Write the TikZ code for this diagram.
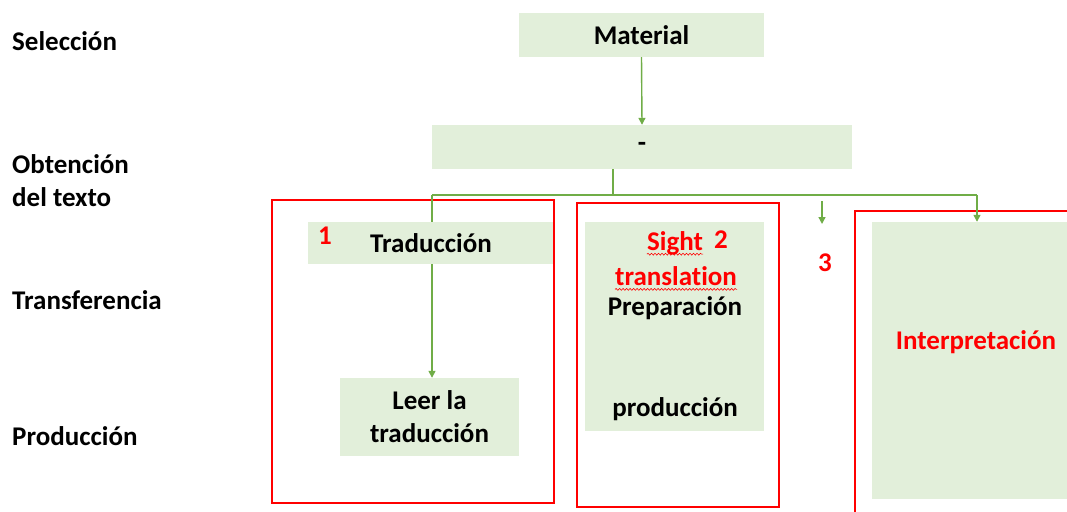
\documentclass[tikz,border=0pt]{standalone}
\usepackage{fontspec}
\setmainfont[Ligatures={NoCommon}]{Carlito}
\usetikzlibrary{arrows.meta,decorations.pathmorphing}
\definecolor{boxgreen}{RGB}{226,239,218}
\definecolor{linegreen}{RGB}{112,173,71}
\definecolor{redc}{RGB}{255,0,0}
\begin{document}
\begin{tikzpicture}[x=1pt,y=-1pt,
  txt/.style={font=\bfseries\fontsize{27}{33}\selectfont},
  gbox/.style={fill=boxgreen, draw=none, inner sep=0pt, txt, align=center},
  rbox/.style={draw=redc, line width=2.5pt, fill=none, inner sep=0pt},
  conn/.style={draw=linegreen, line width=1.4pt},
  arr/.style={conn, -{Triangle[length=7pt,width=7pt]}},
  lab/.style={anchor=west, txt, align=left, inner sep=0pt},
  num/.style={text=redc, txt, inner sep=0pt},
  wavy/.style={draw=redc, line width=0.6pt, decorate, decoration={snake, amplitude=0.9pt, segment length=3.5pt}}
]
\useasboundingbox (0,0) rectangle (1067,511);
\fill[white] (0,0) rectangle (1067,511);

% left labels
\node[lab] (sel) at (12,41) {Selección};
\node[lab] (obt) at (12,181) {Obtención\\del texto};
\node[lab] (tra) at (12,300) {Transferencia};
\node[lab] (pro) at (12,436) {Producción};

% green boxes
\node[gbox, minimum width=245pt, minimum height=44pt] (mat) at (641.5,35) {Material};
\node[gbox, minimum width=420pt, minimum height=44pt] (dash) at (642,147) {-};
\node[gbox, minimum width=245pt, minimum height=42pt] (trad) at (430.5,243) {};
\node[txt, inner sep=0pt] (tradt) at (431,243) {Traducción};
\node[gbox, minimum width=179pt, minimum height=78pt] (leer) at (429.5,417) {Leer la\\traducción};
\node[gbox, minimum width=179pt, minimum height=209pt] (sightbox) at (674.5,326.5) {};
\node[gbox, minimum width=195pt, minimum height=277pt] (interp) at (969.5,360.5) {};

% texts in boxes
\node[txt, text=redc, inner sep=0pt] (sight) at (675,243) {Sight};
\node[txt, text=redc, inner sep=0pt] (transl) at (676,276) {translation};
\node[txt, inner sep=0pt] (prep) at (675,308) {Preparación};
\node[txt, inner sep=0pt] (prod) at (675,409) {producción};
\node[txt, text=redc, inner sep=0pt] (interpt) at (976,342) {Interpretación};
\draw[wavy] ([yshift=-4pt]sight.base west) -- ([yshift=-4pt]sight.base east);
\draw[wavy] ([yshift=-4pt]transl.base west) -- ([yshift=-4pt]transl.base east);

% red frames
\node[rbox, minimum width=282pt, minimum height=303pt] (r1) at (413,351.5) {};
\node[rbox, minimum width=202pt, minimum height=304pt] (r2) at (678,355) {};
\node[rbox, minimum width=225pt, minimum height=309pt] (r3) at (967.5,365.5) {};

% numbers
\node[num] (n1) at (325,236) {1};
\node[num] (n2) at (721,240) {2};
\node[num] (n3) at (825,263) {3};

% connectors
\coordinate (j) at (613,195);
\coordinate (hl) at (432,195);
\coordinate (hr) at (977,195);
\coordinate (a3s) at (822,201);
\coordinate (a3e) at (822,224);
\draw[arr] (mat.south) -- (dash.north);
\draw[conn] (dash.south -| j) -- (j);
\draw[conn] (hl) -- (hr);
\draw[conn] (hl) -- (hl |- trad.north);
\draw[arr] (hl |- trad.south) -- (hl |- leer.north);
\draw[arr] (hr) -- (hr |- interp.north);
\draw[arr] (a3s) -- (a3e);
\end{tikzpicture}
\end{document}
